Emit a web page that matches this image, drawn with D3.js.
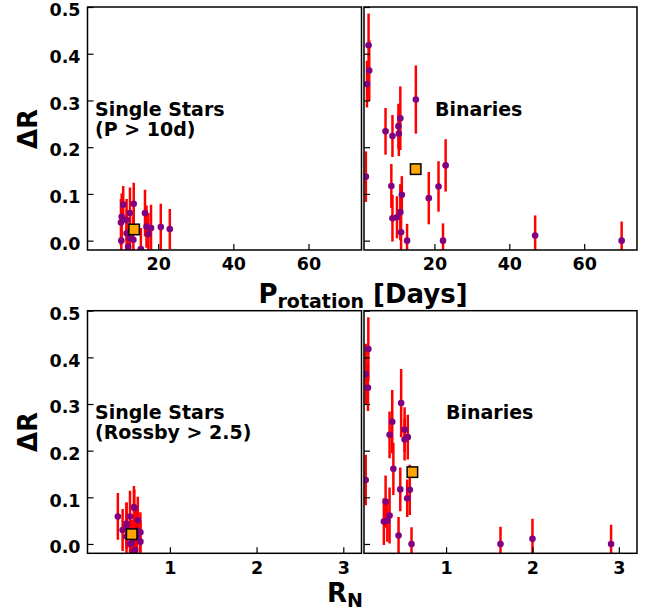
<!DOCTYPE html>
<html>
<head>
<meta charset="utf-8">
<script src="https://cdn.jsdelivr.net/npm/d3@7"></script>
<style>
  body { margin: 0; background: #fff; }
  svg text { font-family: "DejaVu Sans", sans-serif; font-weight: bold; }
</style>
</head>
<body>
<svg width="655" height="615"></svg>
<script>
// single stars (P > 10d): rotation period, Rossby number, delta R and its error
var singleP   = [10.7, 13.5, 10.3, 12.5, 16.5, 10.1, 11.6, 16.9, 18.1, 20.7, 23.1, 17.4, 10.2, 11.6, 12.5, 13.4, 15.4, 12.0];
var singleRn  = [0.59, 0.585, 0.63, 0.54, 0.40, 0.50, 0.50, 0.455, 0.60, 0.62, 0.66, 0.62, 0.54, 0.50, 0.66, 0.56, 0.58, 0.60];
var singleDR  = [0.077, 0.079, 0.051, 0.059, 0.059, 0.039, 0.044, 0.030, 0.027, 0.029, 0.025, 0.014, 0.0, 0.016, 0.005, 0.002, -0.018, -0.013];
var singleErr = [0.04, 0.045, 0.05, 0.055, 0.05, 0.05, 0.045, 0.045, 0.05, 0.05, 0.043, 0.045, 0.045, 0.05, 0.045, 0.05, 0.045, 0.04];

// binaries
var binP   = [2.42, 2.6, 2.0, 1.7, 6.95, 8.8, 10.4, 10.9, 10.5, 15.05, 8.5, 8.8, 10.0, 10.9, 11.3, 11.1, 12.7, 18.5, 21.1, 23.0, 22.3, 46.9, 70.0];
var binRn  = [0.10, 0.07, 0.096, 0.07, 0.346, 0.52, 0.52, 0.377, 0.557, 0.48, 0.47, 0.28, 0.32, 0.346, 0.55, 0.45, 0.60, 0.30, 0.58, 0.39, 1.63, 2.0, 2.91];
var binDR  = [0.418, 0.364, 0.335, 0.137, 0.234, 0.224, 0.245, 0.262, 0.229, 0.302, 0.117, 0.048, 0.050, 0.061, 0.098, 0.018, 0.0, 0.091, 0.116, 0.161, 0.0, 0.011, 0.0];
var binErr = [0.068, 0.065, 0.05, 0.054, 0.05, 0.045, 0.048, 0.068, 0.048, 0.073, 0.047, 0.05, 0.045, 0.06, 0.04, 0.04, 0.036, 0.056, 0.054, 0.056, 0.037, 0.043, 0.041];

// sample means (orange squares)
var meanSingleP = [13.6, 0.024], meanSingleRn = [0.56, 0.021];
var meanBinP = [15.0, 0.153], meanBinRn = [0.61, 0.154];

var yTicks = [0, 0.1, 0.2, 0.3, 0.4, 0.5];
var pTicks = [20, 40, 60];
var rnTicks = [1, 2, 3];

var svg = d3.select("svg");

// panel boxes
var cols = [[87.5, 361.5], [364, 637]];
var rows = [[7, 250], [310.7, 553.3]];

function drawPanel(col, row, xDomain, xTicks, xs, ys, errs, mean, label, showY, id) {
  var x = d3.scaleLinear().domain(xDomain).range(cols[col]);
  var y = d3.scaleLinear().domain([-0.02, 0.5]).range([rows[row][1], rows[row][0]]);
  var g = svg.append("g");

  g.append("clipPath").attr("id", id)
    .append("rect")
    .attr("x", cols[col][0]).attr("y", rows[row][0])
    .attr("width", cols[col][1] - cols[col][0]).attr("height", rows[row][1] - rows[row][0]);

  var pts = xs.map(function(v, i) { return {x: v, y: ys[i], e: errs[i]}; });
  var data = g.append("g").attr("clip-path", "url(#" + id + ")");

  data.selectAll(".err").data(pts).enter().append("line")
    .attr("x1", function(d) { return x(d.x); })
    .attr("x2", function(d) { return x(d.x); })
    .attr("y1", function(d) { return y(d.y - d.e); })
    .attr("y2", function(d) { return y(d.y + d.e); })
    .attr("stroke", "red").attr("stroke-width", 2.5);

  data.selectAll(".dot").data(pts).enter().append("circle")
    .attr("cx", function(d) { return x(d.x); })
    .attr("cy", function(d) { return y(d.y); })
    .attr("r", 3.3).attr("fill", "purple");

  data.append("rect")
    .attr("x", x(mean[0]) - 5.25).attr("y", y(mean[1]) - 5.25)
    .attr("width", 10.5).attr("height", 10.5)
    .attr("fill", "orange").attr("stroke", "black").attr("stroke-width", 1.5);

  // axes with inward ticks
  var xa = g.append("g")
    .attr("transform", "translate(0," + rows[row][1] + ")")
    .call(d3.axisBottom(x).tickValues(xTicks).tickSizeInner(-6).tickSizeOuter(0).tickPadding(8)
      .tickFormat(d3.format("d")));
  var ya = g.append("g")
    .attr("transform", "translate(" + cols[col][0] + ",0)")
    .call(d3.axisLeft(y).tickValues(yTicks).tickSizeInner(-6).tickSizeOuter(0).tickPadding(7)
      .tickFormat(showY ? d3.format(".1f") : ""));
  ya.selectAll(".tick text").attr("dy", "0.5em");
  [xa, ya].forEach(function(a) {
    a.select(".domain").remove();
    a.selectAll(".tick line").attr("stroke", "black").attr("stroke-width", 1.2);
    a.selectAll("text").attr("font-size", 17.5).attr("fill", "black")
      .style("font-family", "DejaVu Sans").style("font-weight", "bold");
  });

  g.append("rect")
    .attr("x", cols[col][0]).attr("y", rows[row][0])
    .attr("width", cols[col][1] - cols[col][0]).attr("height", rows[row][1] - rows[row][0])
    .attr("fill", "none").attr("stroke", "black").attr("stroke-width", 1.5);

  var t = g.append("text").attr("font-size", 19);
  label.lines.forEach(function(s, i) {
    t.append("tspan").attr("x", label.x).attr("y", label.y + i * 20).text(s);
  });
}

drawPanel(0, 0, [1.2, 74.1], pTicks, singleP, singleDR, singleErr, meanSingleP,
  {x: 95, y: 116, lines: ["Single Stars", "(P > 10d)"]}, true, "c1");
drawPanel(1, 0, [1.2, 74.1], pTicks, binP, binDR, binErr, meanBinP,
  {x: 435, y: 116, lines: ["Binaries"]}, false, "c2");
drawPanel(0, 1, [0.05, 3.21], rnTicks, singleRn, singleDR, singleErr, meanSingleRn,
  {x: 95, y: 419, lines: ["Single Stars", "(Rossby > 2.5)"]}, true, "c3");
drawPanel(1, 1, [0.05, 3.21], rnTicks, binRn, binDR, binErr, meanBinRn,
  {x: 446, y: 419, lines: ["Binaries"]}, false, "c4");

// axis titles
[129, 432].forEach(function(cy) {
  svg.append("text")
    .attr("transform", "translate(37," + cy + ") rotate(-90)")
    .attr("text-anchor", "middle").attr("font-size", 26).text("ΔR");
});

var px = svg.append("text").attr("x", 363).attr("y", 303)
  .attr("text-anchor", "middle").attr("font-size", 26);
px.append("tspan").text("P");
px.append("tspan").attr("font-size", 19).attr("dy", 5).text("rotation");
px.append("tspan").attr("dy", -5).text(" [Days]");

var rx = svg.append("text").attr("x", 345).attr("y", 602)
  .attr("text-anchor", "middle").attr("font-size", 26);
rx.append("tspan").text("R");
rx.append("tspan").attr("font-size", 19).attr("dy", 5).text("N");
</script>
</body>
</html>
